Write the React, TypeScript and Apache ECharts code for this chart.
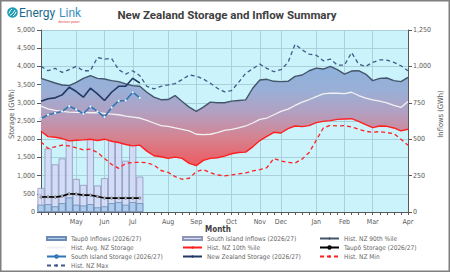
import React, { useEffect, useRef } from 'react';
import * as echarts from 'echarts';

// ---------- data ----------
const monthLabels = ['May', 'Jun', 'Jul', 'Aug', 'Sep', 'Oct', 'Nov', 'Dec', 'Jan', 'Feb', 'Mar', 'Apr'];
const monthWeekIndex = [5, 9, 13, 18, 22, 27, 31, 34, 39, 43, 47, 52];
const weekCount = 53;

const histMax = [4000, 3881, 3945, 3836, 3909, 4000, 3881, 3881, 4245, 4200, 4218, 3909, 3790, 3881, 3745, 3454, 3381, 3454, 3490, 3527, 3636, 3763, 3736, 3654, 3536, 3400, 3300, 3336, 3563, 3809, 3936, 4063, 3945, 3854, 3909, 4109, 4609, 4454, 4336, 4309, 4154, 4200, 4036, 4036, 4381, 4063, 4000, 4109, 4181, 4172, 4109, 4018, 3881];
const hist90 = [3672, 3609, 3545, 3490, 3472, 3563, 3672, 3745, 3672, 3654, 3609, 3581, 3518, 3472, 3454, 3290, 3154, 3085, 3090, 3200, 3036, 2881, 2763, 2881, 3018, 3000, 3000, 3045, 3063, 3081, 3400, 3627, 3645, 3590, 3581, 3590, 3727, 3763, 3881, 3954, 3927, 4000, 3909, 3790, 3872, 3881, 3790, 3609, 3672, 3681, 3609, 3581, 3700];
const histAvg = [2909, 2836, 2791, 2763, 2745, 2736, 2736, 2727, 2727, 2709, 2691, 2672, 2636, 2609, 2582, 2518, 2445, 2372, 2354, 2309, 2272, 2227, 2136, 2127, 2136, 2181, 2245, 2272, 2309, 2363, 2445, 2545, 2582, 2672, 2763, 2827, 2927, 3018, 3090, 3172, 3245, 3263, 3263, 3254, 3290, 3200, 3127, 3081, 3045, 3000, 2927, 2872, 3036];
const hist10 = [2218, 2072, 2054, 2018, 1954, 1972, 1981, 2000, 1963, 2000, 1945, 1909, 1854, 1818, 1836, 1672, 1545, 1518, 1472, 1509, 1472, 1336, 1272, 1418, 1472, 1491, 1536, 1600, 1636, 1645, 1790, 1963, 2080, 2190, 2170, 2291, 2363, 2345, 2372, 2454, 2491, 2509, 2545, 2554, 2563, 2491, 2400, 2318, 2363, 2354, 2309, 2227, 2272];
const histMin = [1927, 1745, 1791, 1836, 1818, 1763, 1709, 1727, 1636, 1472, 1309, 1200, 1336, 1363, 1363, 1354, 1291, 1140, 1091, 972, 900, 927, 1109, 1163, 1081, 1018, 991, 1018, 1045, 1072, 1127, 1163, 1218, 1472, 1400, 1364, 1345, 1454, 1636, 1972, 2309, 2382, 2363, 2372, 2336, 2272, 2218, 2191, 2209, 2182, 2154, 2000, 1836];

const nzStorage = [3041, 3109, 3136, 3218, 3427, 3309, 3154, 3400, 3245, 3063, 3290, 3454, 3454, 3672, 3545];
const siStorage = [2563, 2672, 2718, 2763, 2909, 2818, 2700, 2900, 2763, 2609, 2872, 3054, 3063, 3290, 3136];
const taupoStorage = [409, 418, 409, 436, 500, 491, 464, 464, 427, 382, 382, 382, 382, 382, 382];
const siInflows = [165, 436, 327, 368, 531, 227, 186, 561, 182, 232, 595, 561, 352, 667, 243];
const taupoInflows = [50, 54, 39, 61, 100, 50, 45, 54, 32, 39, 61, 68, 50, 68, 61];

const storageTicks = { min: 0, max: 5000, interval: 500 };
const inflowTicks = { min: 0, max: 1250, interval: 250 };

// ---------- helpers ----------
const FONT = '"Liberation Sans Narrow", "DejaVu Sans Condensed", Roboto, sans-serif';
const categories = Array.from({ length: weekCount }, (_, i) => `W${i}`);
const labelFor = (idx: number) => {
  const k = monthWeekIndex.indexOf(idx);
  return k >= 0 ? monthLabels[k] : '';
};
const isMonthStart = (idx: number) => monthWeekIndex.indexOf(idx) >= 0;
const bandWidth = hist90.map((v, i) => v - hist10[i]);
const fmt = (v: number) => v.toLocaleString('en-US');

export default function App() {
  const ref = useRef<HTMLDivElement>(null);

  useEffect(() => {
    if (!ref.current) return;
    const chart = echarts.init(ref.current, undefined, { renderer: 'svg' });

    const legendBase: any = {
      orient: 'vertical',
      top: 234,
      padding: 0,
      itemWidth: 19,
      itemHeight: 3,
      itemGap: 0,
      textStyle: { fontSize: 6.5, color: '#666666', lineHeight: 9, fontFamily: FONT },
    };

    const bandGradient = new echarts.graphic.LinearGradient(
      0, 58, 0, 168,
      [
        { offset: 0, color: '#88B2DE' },
        { offset: 0.3, color: '#9AAFD6' },
        { offset: 0.5, color: '#B39FC0' },
        { offset: 0.72, color: '#D58391' },
        { offset: 1, color: '#F0575B' },
      ],
      true
    );

    const option: any = {
      animation: false,
      backgroundColor: '#FFFFFF',
      textStyle: { fontFamily: FONT },
      grid: {
        left: 41, right: 42, top: 30, bottom: 60,
        show: true, backgroundColor: '#CAF3FC', borderWidth: 0,
        containLabel: false, outerBoundsMode: 'none',
      },
      legend: [
        { ...legendBase, left: 46, data: [{ name: 'Taupō Inflows (2026/27)', icon: 'rect' }, 'Hist. Avg. NZ Storage', 'South Island Storage (2026/27)', 'Hist. NZ Max'] },
        { ...legendBase, left: 182, data: [{ name: 'South Island Inflows (2026/27)', icon: 'rect' }, 'Hist. NZ 10th %ile', 'New Zealand Storage (2026/27)'] },
        { ...legendBase, left: 319, data: ['Hist. NZ 90th %ile', 'Taupō Storage (2026/27)', 'Hist. NZ Min'] },
      ],
      xAxis: {
        type: 'category',
        data: categories,
        boundaryGap: false,
        axisLine: { show: true, lineStyle: { color: '#595959', width: 1 } },
        axisTick: { show: true, interval: 0, length: 3, lineStyle: { color: '#595959' } },
        axisLabel: {
          interval: (idx: number) => isMonthStart(idx),
          formatter: (_v: string, idx: number) => labelFor(idx),
          margin: 6, fontSize: 7, color: '#595959', fontFamily: FONT,
        },
        splitLine: { show: true, interval: (idx: number) => isMonthStart(idx), lineStyle: { color: '#ABD0D9', width: 1 } },
      },
      yAxis: [
        {
          type: 'value', position: 'left', ...storageTicks,
          axisLine: { show: true, lineStyle: { color: '#595959', width: 1 } },
          axisTick: { show: true, length: 4, lineStyle: { color: '#595959' } },
          axisLabel: { margin: 6, fontSize: 7, color: '#595959', formatter: fmt, fontFamily: FONT },
          splitLine: { show: true, lineStyle: { color: '#ABD0D9', width: 1 } },
        },
        {
          type: 'value', position: 'right', ...inflowTicks,
          axisLine: { show: true, lineStyle: { color: '#595959', width: 1 } },
          axisTick: { show: true, length: 4, lineStyle: { color: '#595959' } },
          axisLabel: { margin: 5, fontSize: 7, color: '#595959', formatter: fmt, fontFamily: FONT },
          splitLine: { show: false },
        },
      ],
      series: [
        {
          name: 'bandBase', type: 'line', stack: 'band', data: hist10, yAxisIndex: 0,
          symbol: 'none', lineStyle: { opacity: 0 }, silent: true,
        },
        {
          name: 'band', type: 'line', stack: 'band', data: bandWidth, yAxisIndex: 0,
          symbol: 'none', lineStyle: { opacity: 0 }, areaStyle: { color: bandGradient, opacity: 1 }, silent: true,
        },
        {
          name: 'South Island Inflows (2026/27)', type: 'bar', yAxisIndex: 1, data: siInflows,
          barWidth: '100%', barGap: '-100%',
          itemStyle: { color: 'rgba(214,216,246,0.82)', borderColor: '#8E96B8', borderWidth: 0.8 },
        },
        {
          name: 'Taupō Inflows (2026/27)', type: 'bar', yAxisIndex: 1, data: taupoInflows,
          barWidth: '100%', barGap: '-100%',
          itemStyle: { color: 'rgba(168,202,236,0.9)', borderColor: '#6C8CB4', borderWidth: 0.8 },
        },
        {
          name: 'Hist. NZ Max', type: 'line', data: histMax, symbol: 'none',
          itemStyle: { color: '#3E5C86' },
          lineStyle: { color: '#3E5C86', width: 1.3, type: [4, 3] },
        },
        {
          name: 'Hist. NZ 90th %ile', type: 'line', data: hist90, symbol: 'none',
          itemStyle: { color: '#44546A' },
          lineStyle: { color: '#44546A', width: 1.4 },
        },
        {
          name: 'Hist. Avg. NZ Storage', type: 'line', data: histAvg, symbol: 'none',
          itemStyle: { color: '#F2F2F2' },
          lineStyle: { color: '#F2F2F2', width: 1.3 },
        },
        {
          name: 'Hist. NZ 10th %ile', type: 'line', data: hist10, symbol: 'none',
          itemStyle: { color: '#FF1F1F' },
          lineStyle: { color: '#FF1F1F', width: 1.4 },
        },
        {
          name: 'Hist. NZ Min', type: 'line', data: histMin, symbol: 'none',
          itemStyle: { color: '#FF2020' },
          lineStyle: { color: '#FF2020', width: 1.3, type: [4, 3] },
        },
        {
          name: 'New Zealand Storage (2026/27)', type: 'line', data: nzStorage, symbol: 'none',
          itemStyle: { color: '#203864' },
          lineStyle: { color: '#203864', width: 1.6 },
        },
        {
          name: 'South Island Storage (2026/27)', type: 'line', data: siStorage,
          symbol: 'circle', symbolSize: 2.5, showSymbol: true,
          itemStyle: { color: '#FFFFFF', borderColor: '#2E75B6', borderWidth: 0.3 },
          lineStyle: { color: '#2E75B6', width: 1.6 },
        },
        {
          name: 'Taupō Storage (2026/27)', type: 'line', data: taupoStorage,
          symbol: 'circle', symbolSize: 2.5, showSymbol: true,
          itemStyle: { color: '#BFBFBF', borderColor: '#000000', borderWidth: 0.3 },
          lineStyle: { color: '#000000', width: 1.6 },
        },
      ],
      graphic: [
        { type: 'rect', shape: { x: 0.75, y: 0.75, width: 448.5, height: 270.5 }, style: { fill: 'none', stroke: '#7F7F7F', lineWidth: 1.5 }, silent: true },
        // logo
        { type: 'circle', shape: { cx: 12.5, cy: 12.5, r: 5.3 }, style: { fill: '#1E9CB5' } },
        { type: 'bezierCurve', shape: { x1: 9, y1: 13.5, x2: 12, y2: 9, cpx1: 10, cpy1: 10 }, style: { stroke: '#FFFFFF', lineWidth: 1, fill: 'none' } },
        { type: 'bezierCurve', shape: { x1: 10, y1: 15.5, x2: 15, y2: 10, cpx1: 13, cpy1: 14 }, style: { stroke: '#FFFFFF', lineWidth: 1, fill: 'none' } },
        { type: 'bezierCurve', shape: { x1: 13, y1: 16, x2: 16, y2: 12, cpx1: 15, cpy1: 15 }, style: { stroke: '#FFFFFF', lineWidth: 1, fill: 'none' } },
        { type: 'text', x: 19, y: 12.5, style: { text: 'Energy', fontSize: 12, fontFamily: 'Roboto, sans-serif', fill: '#1A6A8C', verticalAlign: 'middle', align: 'left' } },
        { type: 'text', x: 59, y: 12.5, style: { text: 'Link', fontSize: 12, fontFamily: 'Roboto, sans-serif', fill: '#3A8FC2', verticalAlign: 'middle', align: 'left' } },
        { type: 'text', x: 69, y: 21.5, style: { text: 'decision power', fontSize: 3.2, fontFamily: 'Roboto, sans-serif', fill: '#E0484F', verticalAlign: 'middle', align: 'center' } },
        // title
        { type: 'text', x: 227, y: 14.5, style: { text: 'New Zealand Storage and Inflow Summary', fontSize: 11.5, fontWeight: 'bold', fontFamily: 'Roboto, sans-serif', fill: '#404040', align: 'center', verticalAlign: 'middle' } },
        // axis titles
        { type: 'text', x: 11, y: 114, rotation: Math.PI / 2, style: { text: 'Storage (GWh)', fontSize: 7.5, fontFamily: FONT, fill: '#595959', align: 'center', verticalAlign: 'middle' } },
        { type: 'text', x: 440, y: 114, rotation: Math.PI / 2, style: { text: 'Inflows (GWh)', fontSize: 7.5, fontFamily: FONT, fill: '#595959', align: 'center', verticalAlign: 'middle' } },
        { type: 'text', x: 218, y: 229, style: { text: 'Month', fontSize: 8, fontWeight: 'bold', fontFamily: FONT, fill: '#404040', align: 'center', verticalAlign: 'middle' } },
      ],
    };

    chart.setOption(option);
    return () => chart.dispose();
  }, []);

  return (
    <div
      ref={ref}
      style={{ position: 'absolute', left: 0, top: 0, width: 450, height: 272, background: '#FFFFFF' }}
    />
  );
}
